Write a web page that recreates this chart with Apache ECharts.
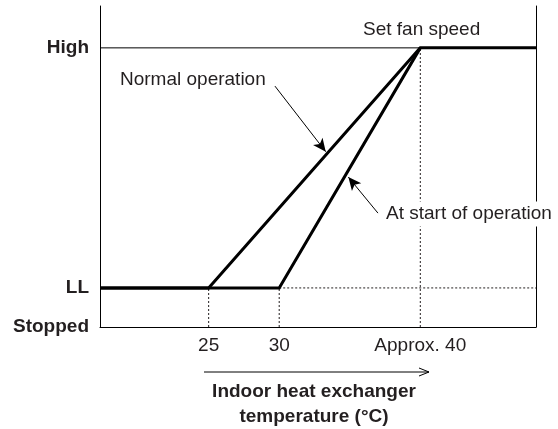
<!DOCTYPE html>
<html>
<head>
<meta charset="utf-8">
<style>
  html, body { margin: 0; padding: 0; background: #fff; }
  #chart { width: 558px; height: 429px; }
</style>
<script src="https://cdn.jsdelivr.net/npm/echarts@6/dist/echarts.min.js"></script>
</head>
<body>
<div id="chart"></div>
<script>
// Fan speed levels (percent of the set fan speed) and their names
const fanLevelNames = ['Stopped', 'LL', 'High'];
const fanLevelValues = [0, 14, 100];

// Indoor heat exchanger temperature ticks (°C)
const tempTicks = [25, 30, 40];
const tempTickLabels = ['25', '30', 'Approx. 40'];

// Temperature range shown on the axis
const tempMin = 17.3;
const tempMax = 48.2;

// Normal operation: LL until 25 °C, ramps to the set speed at about 40 °C
const normalTemps = [tempMin, 25, 40, tempMax];
const normalSpeeds = [14, 14, 100, 100];

// At start of operation: LL until 30 °C, ramps to the set speed at about 40 °C
const startTemps = [tempMin, 30, 40];
const startSpeeds = [14, 14, 100];

const FONT = "'Liberation Sans', Arial, Helvetica, sans-serif";
const INK = '#231f20';

const zip = (xs, ys) => xs.map((x, i) => [x, ys[i]]);

const dotted = { color: INK, width: 1, type: [2, 2] };
const thick = { color: '#000', width: 3, cap: 'butt', join: 'miter' };

function guide(points, style) {
  return {
    type: 'line', data: points, symbol: 'none', silent: true,
    lineStyle: style, z: 1, animation: false
  };
}

const option = {
  animation: false,
  grid: { left: 100, right: 22, top: 6, bottom: 102, outerBoundsMode: 'none', containLabel: false },
  xAxis: {
    type: 'value', min: tempMin, max: tempMax,
    axisLine: { show: true, lineStyle: { color: '#000', width: 1 } },
    axisTick: { show: false },
    splitLine: { show: false },
    axisLabel: {
      customValues: tempTicks,
      formatter: v => tempTickLabels[tempTicks.indexOf(v)],
      fontFamily: FONT, fontSize: 19, color: INK, margin: 9
    },
    name: 'Indoor heat exchanger\ntemperature (°C)',
    nameLocation: 'middle', nameGap: 52,
    nameTextStyle: {
      fontFamily: FONT, fontSize: 19, fontWeight: 'bold', color: INK,
      lineHeight: 25, padding: [0, 8, 0, 0]
    }
  },
  yAxis: [{
    type: 'value', min: 0, max: 115, position: 'left',
    axisLine: { show: true, lineStyle: { color: '#000', width: 1 } },
    axisTick: { show: false },
    splitLine: { show: false },
    axisLabel: {
      customValues: fanLevelValues,
      formatter: v => fanLevelNames[fanLevelValues.indexOf(v)],
      fontFamily: FONT, fontSize: 19, fontWeight: 'bold', color: INK, margin: 11
    }
  }, {
    type: 'value', min: 0, max: 115, position: 'right',
    axisLine: { show: true, lineStyle: { color: '#000', width: 1 } },
    axisTick: { show: false },
    splitLine: { show: false },
    axisLabel: { show: false }
  }],
  series: [
    // thin line at the set fan speed up to the ramp end
    guide([[tempMin, fanLevelValues[2]], [tempTicks[2], fanLevelValues[2]]], { color: '#000', width: 1 }),
    // dotted drop lines and the LL continuation
    guide([[tempTicks[0], 0], [tempTicks[0], fanLevelValues[1]]], dotted),
    guide([[tempTicks[1], 0], [tempTicks[1], fanLevelValues[1]]], dotted),
    guide([[tempTicks[2], 0], [tempTicks[2], fanLevelValues[2]]], dotted),
    guide([[tempTicks[1], fanLevelValues[1]], [tempMax, fanLevelValues[1]]], dotted),
    {
      name: 'Normal operation', type: 'line', data: zip(normalTemps, normalSpeeds),
      symbol: 'none', lineStyle: thick, z: 3,
      markLine: {
        silent: true, animation: false,
        symbol: ['none', 'arrow'], symbolSize: [9, 13],
        label: { show: false },
        lineStyle: { color: '#000', width: 1, type: 'solid' },
        data: [[{ coord: [29.7, 86.3] }, { coord: [33.3, 62.8] }]]
      }
    },
    {
      name: 'At start of operation', type: 'line', data: zip(startTemps, startSpeeds),
      symbol: 'none', lineStyle: thick, z: 3,
      markLine: {
        silent: true, animation: false,
        symbol: ['none', 'arrow'], symbolSize: [9, 13],
        label: { show: false },
        lineStyle: { color: '#000', width: 1, type: 'solid' },
        data: [[{ coord: [37.0, 40.8] }, { coord: [34.9, 53.7] }]]
      }
    }
  ],
  graphic: [
    { type: 'text', x: 363, y: 30, z: 100,
      style: { text: 'Set fan speed', font: '19px ' + FONT, fill: INK, align: 'left', verticalAlign: 'middle' } },
    { type: 'text', x: 120, y: 80, z: 100,
      style: { text: 'Normal operation', font: '19px ' + FONT, fill: INK, align: 'left', verticalAlign: 'middle' } },
    { type: 'text', x: 386, y: 214, z: 100,
      style: { text: 'At start of operation', font: '19px ' + FONT, fill: INK, align: 'left', verticalAlign: 'middle',
               backgroundColor: '#fff', padding: [3, 0, 3, 0] } },
    // direction arrow above the axis name
    { type: 'line', z: 100, shape: { x1: 204, y1: 372, x2: 429, y2: 372 },
      style: { stroke: '#000', lineWidth: 1 } },
    { type: 'polyline', z: 100, shape: { points: [[419, 368], [429, 372], [419, 376]] },
      style: { stroke: '#000', lineWidth: 1, fill: null } }
  ]
};

const chart = echarts.init(document.getElementById('chart'), null, { renderer: 'canvas' });
chart.setOption(option);
</script>
</body>
</html>
